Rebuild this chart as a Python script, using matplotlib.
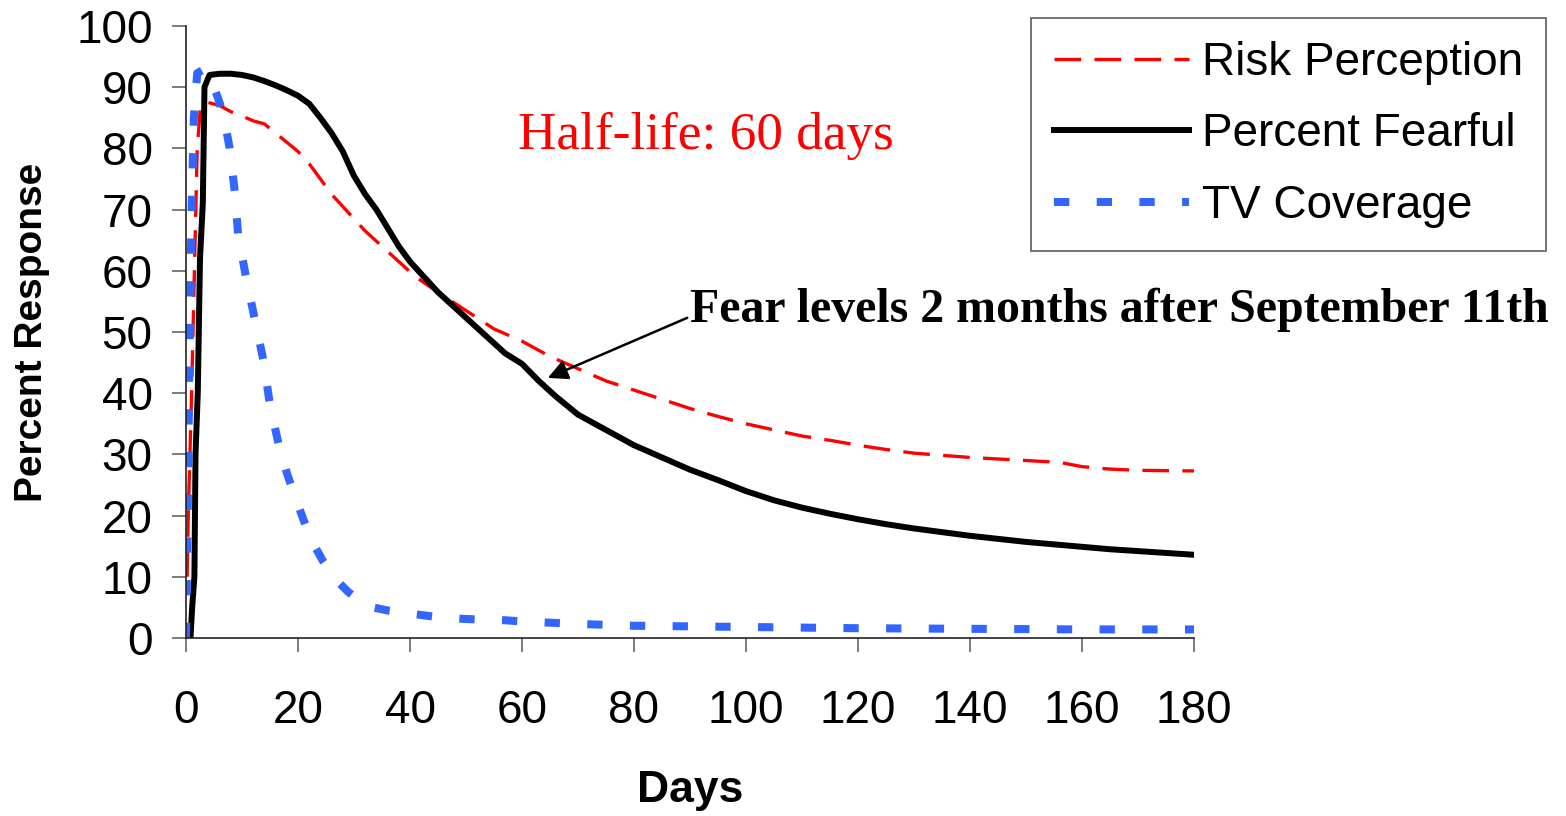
import matplotlib
matplotlib.use("Agg")
import matplotlib.pyplot as plt

# Percent Fearful (black solid)
fear_days = [0.8, 1.1, 1.5, 1.7, 2.1, 2.5, 3.0, 3.3, 4.2, 6, 8, 10, 12, 14, 16, 18,
             20, 22, 24, 26, 28, 30, 32, 34, 36, 38, 40, 42, 45, 48, 51, 54, 57,
             60, 63, 66, 70, 75, 80, 85, 90, 95, 100, 105, 110, 115, 120, 125,
             130, 135, 140, 145, 150, 155, 160, 165, 170, 175, 180]
fear_vals = [0, 5, 10, 30, 40, 62, 71, 90, 92, 92.2, 92.2, 92, 91.6, 91, 90.3, 89.5,
             88.6, 87.3, 85, 82.5, 79.5, 75.5, 72.5, 70, 67, 64, 61.5, 59.5, 56.5,
             54, 51.5, 49, 46.5, 44.8, 42, 39.5, 36.5, 34, 31.5, 29.5, 27.5, 25.8,
             24, 22.5, 21.3, 20.3, 19.4, 18.6, 17.9, 17.3, 16.7, 16.2, 15.7, 15.3,
             14.9, 14.5, 14.2, 13.9, 13.6]

# Risk Perception (red dashed)
risk_days = [0.2, 0.4, 1, 1.5, 2, 2.6, 4, 6, 8, 10, 12, 14, 16, 18, 20, 22, 24, 26,
             28, 30, 32, 35, 38, 41, 45, 50, 55, 60, 65, 70, 75, 80, 85, 90, 95,
             100, 105, 110, 115, 120, 125, 130, 140, 150, 156, 160, 165, 170, 180]
risk_vals = [10, 20, 40, 60, 80, 87, 87.5, 87, 86, 85.3, 84.5, 84, 82.5, 81, 79.5,
             77.5, 75, 72.5, 70.5, 68.5, 66.5, 64, 61.5, 59, 56.5, 53.5, 50.5, 48.5,
             46, 44, 42, 40.5, 39, 37.5, 36.2, 35, 34, 33, 32.3, 31.5, 30.8, 30.2,
             29.5, 29, 28.7, 28, 27.6, 27.4, 27.3]

# TV Coverage (blue dotted)
tv_days = [0, 0.3, 0.6, 1, 1.4, 2, 3, 4, 5, 6, 7, 7.8, 8.7, 9.3, 10.7, 12.3, 13.9,
           15, 16.7, 18, 19.3, 22.2, 24.5, 26.8, 29, 32.3, 36, 40, 45, 50, 57, 60,
           70, 80, 100, 120, 140, 160, 180]
tv_vals = [0, 20, 45, 70, 85, 92.3, 92.8, 92, 90, 87.5, 84, 80, 73, 66, 59, 52, 45,
           38, 31, 27, 23.5, 16.3, 12.5, 9.5, 7.5, 5.2, 4.5, 4, 3.4, 3.1, 2.9, 2.7,
           2.3, 2, 1.8, 1.6, 1.5, 1.4, 1.4]

x_ticks = list(range(0, 181, 20))
y_ticks = list(range(0, 101, 10))

sans = ["Liberation Sans", "DejaVu Sans"]
serif = ["Liberation Serif", "DejaVu Serif"]

fig = plt.figure(figsize=(15.66, 8.16), dpi=100)
ax = fig.add_axes([186 / 1566, 1 - 638 / 816, 1008 / 1566, 612 / 816])

l1, = ax.plot(risk_days, risk_vals, color="#ff0000", lw=2.4, dashes=(8, 4),
              label="Risk Perception")
l2, = ax.plot(fear_days, fear_vals, color="black", lw=4.3, solid_joinstyle="round",
              label="Percent Fearful")
l3, = ax.plot(tv_days, tv_vals, color="#3366ff", lw=5.8, dashes=(1.9, 3.4),
              label="TV Coverage")

ax.set_xlim(0, 180)
ax.set_ylim(0, 100)
ax.set_xticks(x_ticks)
ax.set_yticks(y_ticks)
ax.spines["top"].set_visible(False)
ax.spines["right"].set_visible(False)
for s in ("left", "bottom"):
    ax.spines[s].set_color("#222222")
    ax.spines[s].set_linewidth(1.2)
ax.tick_params(axis="both", direction="out", length=10, width=1.2, color="#666666")
ax.tick_params(axis="y", pad=14)
ax.tick_params(axis="x", pad=27)
for lab in ax.get_xticklabels() + ax.get_yticklabels():
    lab.set_family(sans)
    lab.set_fontsize(33)

ax.set_ylabel("Percent Response", family=sans, fontsize=28, fontweight="bold")
ax.yaxis.set_label_coords(-0.135, 0.5)
ax.set_xlabel("Days", family=sans, fontsize=32, fontweight="bold")
ax.xaxis.set_label_coords(0.5, -0.215)

ax.text(59.3, 82, "Half-life: 60 days", color="#ff0000", family=serif,
        fontsize=38.3, ha="left", va="center")
ax.annotate("Fear levels 2 months after September 11th", xy=(64.6, 42.5),
            xytext=(90, 53.6), family=serif, fontsize=34.5, fontweight="bold",
            ha="left", va="center", annotation_clip=False,
            arrowprops=dict(arrowstyle="-|>", color="black", lw=1.8,
                            mutation_scale=30, shrinkA=0, shrinkB=0,
                            relpos=(0, 0.35)))

leg = fig.legend(handles=[l1, l2, l3], loc="upper left",
                 bbox_to_anchor=(1031 / 1566, 1 - 18 / 816), borderaxespad=0,
                 prop={"family": sans, "size": 33}, frameon=True, fancybox=False,
                 handlelength=2.95, handletextpad=0.28, labelspacing=0.6,
                 borderpad=0.5)
leg.get_frame().set_edgecolor("#333333")
leg.get_frame().set_linewidth(1.2)

fig.savefig("out.png", dpi=100)
